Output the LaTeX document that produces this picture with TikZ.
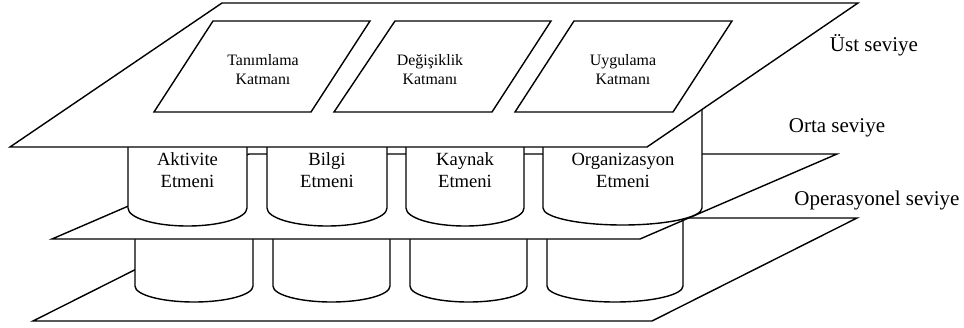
\documentclass[tikz,border=0pt]{standalone}
\usepackage{fontspec}
\setmainfont{Liberation Serif}
\tikzset{
  plane/.style={draw=black, fill=white, line width=1.4pt, line join=miter},
  cylbody/.style={draw=black, fill=white, line width=1.4pt},
  smalltxt/.style={inner sep=0pt, align=center, font=\fontsize{15.9}{19}\selectfont},
  cyltxt/.style={inner sep=0pt, align=center, font=\fontsize{18.6}{22}\selectfont},
  leveltxt/.style={inner sep=0pt, font=\fontsize{21}{25}\selectfont},
}
\newcommand{\mycyl}[5]{%
  \pgfmathsetmacro{\cylc}{(#1+#2)/2}%
  \pgfmathsetmacro{\cylka}{0.5523*(#2-#1)/2}%
  \pgfmathsetmacro{\cylkb}{0.5523*#5}%
  \pgfmathsetmacro{\cylbot}{#4+#5}%
  \pgfmathsetmacro{\cylmid}{#4+\cylkb}%
  \draw[cylbody] (#1,#3) -- (#1,#4) .. controls (#1,\cylmid) and ({\cylc-\cylka},\cylbot) .. (\cylc,\cylbot) .. controls ({\cylc+\cylka},\cylbot) and (#2,\cylmid) .. (#2,#4) -- (#2,#3);
}
\begin{document}
\begin{tikzpicture}[x=1pt,y=-1pt]
\useasboundingbox (0,0) rectangle (964,327);
% bottom plane
\draw[plane] (33,321) -- (238,218) -- (857,218) -- (652,321) -- cycle;
% lower cylinders
\mycyl{135}{253}{215}{286}{16}
\mycyl{273}{390}{215}{286}{16}
\mycyl{410}{527}{215}{286}{16}
\mycyl{547}{683}{215}{286}{16}
% middle plane
\draw[plane] (52,239) -- (249,154) -- (837,154) -- (640,239) -- cycle;
% upper cylinders
\mycyl{128}{247}{105}{208}{18}
\mycyl{267}{387}{105}{208}{18}
\mycyl{406}{524}{105}{208}{18}
\mycyl{543}{702}{105}{208}{17}
% top plane
\draw[plane] (10,147) -- (222,3) -- (858,3) -- (647,147) -- cycle;
% layers on the top plane
\draw[plane] (154,112) -- (213,21) -- (370,21) -- (311,112) -- cycle;
\draw[plane] (334,112) -- (395,21) -- (551,21) -- (492,112) -- cycle;
\draw[plane] (515,112) -- (574,21) -- (732,21) -- (673,112) -- cycle;
% texts
\node[smalltxt] (tan) at (263,70) {Tanımlama\\Katmanı};
\node[smalltxt] (deg) at (430,70) {Değişiklik\\Katmanı};
\node[smalltxt] (uyg) at (623,70) {Uygulama\\Katmanı};
\node[cyltxt] (akt) at (187.5,170) {Aktivite\\Etmeni};
\node[cyltxt] (bil) at (327,170) {Bilgi\\Etmeni};
\node[cyltxt] (kay) at (465,170) {Kaynak\\Etmeni};
\node[cyltxt] (org) at (623,170) {Organizasyon\\Etmeni};
\node[leveltxt] (ust) at (874,45) {Üst seviye};
\node[leveltxt] (orta) at (837,128) {Orta seviye};
\node[leveltxt] (ops) at (877,200) {Operasyonel seviye};
\end{tikzpicture}
\end{document}
